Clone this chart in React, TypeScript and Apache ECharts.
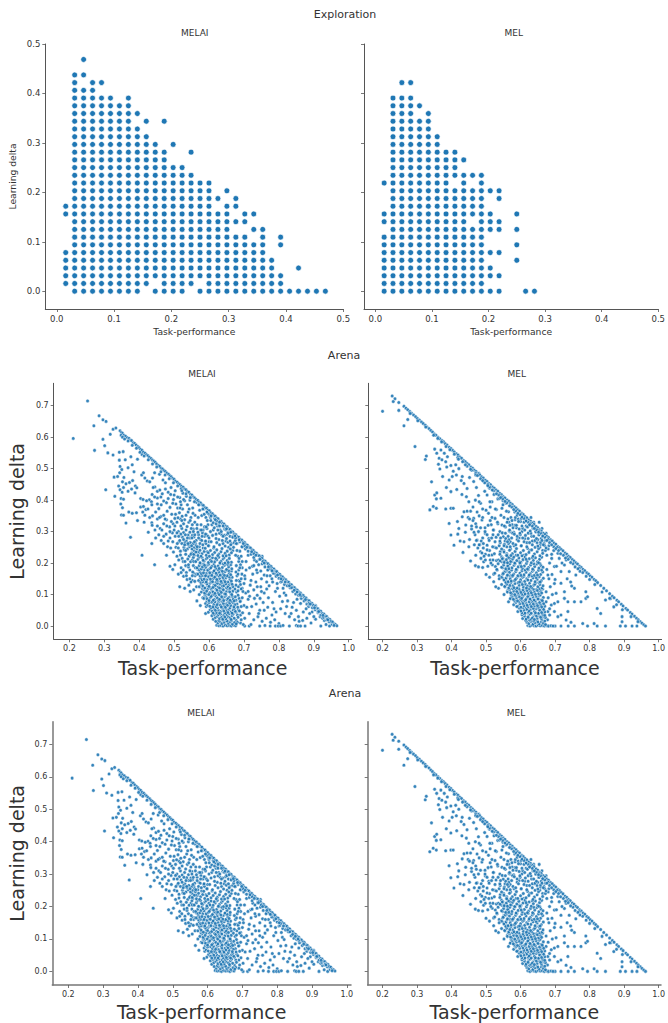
import React, { useEffect, useRef } from "react";
import * as echarts from "echarts";

const gridStep = 1 / 64;
const explorationTicksX = [0, 0.1, 0.2, 0.3, 0.4, 0.5];
const explorationTicksY = [0, 0.1, 0.2, 0.3, 0.4, 0.5];
const arenaTicksX = [0.2, 0.3, 0.4, 0.5, 0.6, 0.7, 0.8, 0.9, 1.0];
const arenaTicksY = [0, 0.1, 0.2, 0.3, 0.4, 0.5, 0.6, 0.7];

// Exploration: column numbers (in grid steps) for each row number, row 0 first
const exploreMelaiRows: number[][] = [
  [2,3,4,5,6,7,8,9,11,12,13,14,16,17,18,19,20,21,22,23,24,25,26,27,28,29,30],
  [1,2,3,4,5,6,7,8,9,10,12,13,14,15,17,18,19,20,21,22,23,24,25],
  [1,2,3,4,5,6,7,8,9,10,11,12,13,14,15,16,17,18,19,20,21,22,23,24,25],
  [1,2,3,4,5,6,7,8,9,10,11,12,13,14,15,16,17,18,19,20,21,22,23,24,27],
  [1,2,3,4,5,6,7,8,9,10,11,12,13,14,15,16,17,18,19,20,21,22,23,24],
  [1,2,3,4,5,6,7,8,9,10,11,12,13,14,15,16,17,18,19,20,21,22,23],
  [2,3,4,5,6,7,8,9,10,11,12,13,14,15,16,17,18,19,20,21,22,23,25],
  [2,3,4,5,6,7,8,9,10,11,12,13,14,15,16,17,18,19,20,21,23,25],
  [2,3,4,5,6,7,8,9,10,11,12,13,14,15,16,17,18,19,22,23],
  [2,3,4,5,6,7,8,9,10,11,12,13,14,15,16,17,18,19,20,21],
  [1,2,3,4,5,6,7,8,9,10,11,12,13,14,15,16,17,18,19,21,22],
  [1,2,3,4,5,6,7,8,9,10,11,12,13,14,15,16,17,19,20],
  [2,3,4,5,6,7,8,9,10,11,12,13,14,15,16,17,18,20],
  [2,3,4,5,6,7,8,9,10,11,12,13,14,15,16,17,19],
  [2,3,4,5,6,7,8,9,10,11,12,13,14,15,16,17],
  [2,3,4,5,6,7,8,9,10,11,12,13,14,15],
  [2,3,4,5,6,7,8,9,10,11,12,13,14],
  [2,3,4,5,6,7,8,9,10,11,12],
  [2,3,4,5,6,7,8,9,10,11,12,15],
  [2,3,4,5,6,7,8,9,10,11,13],
  [2,3,4,5,6,7,8,9,10],
  [2,3,4,5,6,7,8,9],
  [2,3,4,5,6,7,8,10,12],
  [2,3,4,5,6,7,8,9],
  [2,3,4,5,6,7,8],
  [2,3,4,5,6,8],
  [2,3,4],
  [2,4,5],
  [2,3],
  [],
  [3],
];
const exploreMelRows: number[][] = [
  [1,2,3,4,5,6,7,8,9,10,11,12,13,14,17,18],
  [1,2,3,4,5,6,7,8,9,10,11,12],
  [1,2,3,4,5,6,7,8,9,10,11,12,13,14],
  [1,2,3,4,5,6,7,8,9,10,11,12,13],
  [1,2,3,4,5,6,7,8,9,10,11,12,16],
  [1,2,3,4,5,6,7,8,9,10,11,12,13,14],
  [1,2,3,4,5,6,7,8,9,10,11,12,16],
  [1,2,3,4,5,6,7,8,9,10,11,12],
  [2,3,4,5,6,7,8,9,10,11,12,13,14,16],
  [1,2,3,4,5,6,7,8,9,10,12,13,14],
  [1,2,3,4,5,6,7,8,9,10,11,12,13,16],
  [2,3,4,5,6,7,8,9,10,11,12],
  [2,3,4,5,6,7,8,9,10,11,12,14],
  [2,3,4,5,6,7,8,9,10,11,12,13,14],
  [1,2,3,4,5,6,7,8,10,12],
  [2,3,4,5,6,7,8,9,10,11,12],
  [2,3,4,5,6,7,8,9],
  [2,3,4,5,6,7,8,9,10],
  [2,3,4,5,6,7,8,9],
  [2,3,4,5,6,7],
  [2,3,4,5,6,7],
  [2,3,4,5,6],
  [2,3,4,5,6],
  [2,3,4,6],
  [2,3,4,5],
  [2,3,4],
  [],
  [3,4],
];

// Arena: x,y pairs in thousandths
const melaiEdge = [
345,620,349,615,352,612,348,606,356,606,361,603,366,598,371,596,375,590,378,589,383,582,387,580,391,575,396,570,400,566,404,561,408,558,412,552,417,549,421,544,425,541,429,536,434,532,438,527,442,524,446,520,450,515,455,510,459,507,463,501,467,499,471,494,475,491,479,486,484,482,488,477,492,474,496,469,500,466,504,460,509,457,513,452,517,449,521,444,526,441,530,435,534,433,538,427,542,425,547,418,551,416,555,410,559,407,563,402,568,399,572,393,576,391,580,385,584,383,589,376,593,374,597,368,601,366,605,360,610,357,614,351,618,349,622,343,626,341,631,334,635,332,639,326,643,324,647,318,652,315,656,309,660,307,664,301,668,299,673,292,677,290,681,284,685,282,689,276,694,273,698,267,702,265,706,259,710,257,715,250,719,248,723,242,727,240,731,234,736,231,740,225,744,223,748,217,752,215,757,208,761,206,765,200,769,198,773,192,778,189,782,183,786,181,790,175,794,173,799,166,803,164,807,158,811,156,815,150,820,147,824,141,828,139,832,133,836,131,841,124,845,122,849,116,853,114,857,108,862,105,866,99,870,97,874,91,878,89,883,82,887,80,891,74,895,72,899,66,904,63,908,57,912,55,916,49,920,47,925,40,929,38,933,32,937,30,941,24,946,21,950,15,954,13,958,7,962,5,966,1,
520,436,548,408,572,385,597,358,622,334,648,306,676,280,702,255,728,230,754,205,782,175,810,148,836,122,862,96,886,72,912,46,938,22,
352,600,358,594,368,588,380,574,392,565,402,552,414,540,426,528,438,515,450,505,462,490,474,480,486,468,498,455,510,445,522,430,534,420,546,408,558,395,570,385,582,372,594,362,606,350,618,338,
630,330,640,318,650,309,662,298,674,286,686,274,698,262,708,250,722,236,734,225,746,212,758,200,770,188,780,176,796,162,806,150,818,140,830,128,844,114,852,108,860,100,876,84,890,70,902,58,914,46,926,34,940,20,958,2,
];
const melaiSparse = [
252,715,285,668,296,655,305,650,270,636,211,596,272,558,296,593,301,573,310,550,317,609,325,625,333,629,325,543,
343,552,354,554,343,527,360,528,376,538,380,512,395,530,408,545,345,507,350,497,368,503,385,490,344,487,356,472,328,473,338,475,352,458,341,445,345,433,355,440,362,452,372,456,381,462,389,445,393,439,351,425,304,433,330,412,348,405,355,403,368,428,378,435,388,423,407,480,412,487,416,470,423,461,430,458,438,470,444,487,458,482,468,464,475,455,445,442,452,428,440,440,437,418,429,401,404,405,411,402,421,398,435,395,452,407,462,410,470,397,483,425,491,440,500,416,347,388,352,376,349,353,355,352,370,362,380,358,392,360,404,378,412,380,419,370,425,372,410,362,416,352,430,345,438,350,447,362,456,373,463,385,478,392,488,377,498,402,505,388,510,375,516,408,525,422,530,398,520,385,362,327,375,282,395,335,408,225,444,195,414,330,436,328,452,340,462,348,470,352,480,365,493,355,502,342,515,360,524,372,538,385,545,400,540,362,553,375,560,352,548,345,
426,298,437,320,445,305,452,318,460,310,470,325,478,338,487,315,497,325,508,330,518,340,530,338,542,330,552,322,436,262,447,280,456,290,463,272,470,262,481,252,477,292,488,280,495,296,503,285,512,300,522,310,534,305,545,298,555,308,478,225,490,248,498,235,505,250,514,268,524,282,535,270,545,280,552,288,508,222,518,238,528,250,538,245,549,262,556,240,563,272,570,290,488,190,496,180,502,195,513,210,523,215,533,228,543,222,552,210,558,225,512,165,520,170,527,158,535,170,545,178,555,192,560,205,516,125,530,120,542,130,552,145,560,160,568,180,537,148,546,110,556,115,564,125,572,100,565,80,575,65,582,90,590,40,592,62,548,140,556,168,
685,205,695,185,702,160,712,225,722,240,730,210,742,195,752,222,760,200,770,180,725,165,738,170,750,150,765,140,775,160,790,165,805,140,812,120,685,145,695,120,705,105,718,130,728,115,738,98,748,125,758,105,770,90,782,75,790,110,802,95,815,105,825,80,838,60,850,50,862,72,875,90,885,62,895,45,905,65,690,80,700,65,712,85,722,62,735,70,745,50,755,75,768,60,780,35,792,45,805,55,818,40,830,30,845,20,856,30,870,45,880,25,892,10,905,22,918,30,930,18,690,35,702,25,715,40,728,20,740,30,752,15,764,25,776,12,788,20,800,8,690,10,702,0,715,0,720,5,745,0,760,2,775,0,790,0,798,0,805,0,812,2,830,0,850,2,855,0,862,0,875,0,920,0,945,0,955,5,950,12,935,5,925,25,
];
const melaiFill = [
502,318,508,296,511,344,516,272,519,318,523,349,527,297,531,265,534,352,537,316,540,289,543,372,546,335,549,310,551,245,554,358,557,283,559,330,561,262,564,393,566,322,568,298,569,345,571,234,573,368,575,275,577,322,579,351,581,296,583,248,585,372,587,315,589,268,591,345,593,290,595,236,597,322,599,255,
512,248,518,226,522,262,526,205,529,242,533,192,536,260,539,213,541,188,544,252,547,204,550,232,553,172,555,218,558,250,
604,345,608,322,612,305,616,342,620,292,624,318,628,275,632,305,636,290,640,262,644,288,648,270,652,292,656,250,660,285,664,262,668,240,672,265,586,355,594,362,602,352,
628,322,644,308,654,298,668,285,680,262,688,268,696,252,704,245,712,238,720,228,728,218,736,205,744,212,752,198,760,188,768,178,776,182,784,168,792,158,800,152,808,142,816,132,824,128,832,122,840,110,848,102,856,98,864,88,872,80,880,70,888,68,896,58,904,52,912,42,920,35,928,28,936,20,944,14,952,6,
678,18,681,35,684,52,680,70,686,88,679,108,684,125,688,142,680,160,685,178,690,195,682,222,688,238,694,252,692,62,695,90,697,110,700,135,703,150,706,178,692,20,696,42,698,5,708,60,712,110,716,95,720,145,724,190,730,88,734,140,738,125,742,40,746,88,750,110,758,50,765,118,772,128,780,150,786,55,795,135,810,78,822,62,835,40,842,75,852,85,858,15,868,18,878,55,888,40,900,30,
681,12,683,28,677,44,687,48,682,60,677,82,689,78,683,98,692,118,677,130,683,112,690,132,678,145,692,150,683,165,677,172,694,165,688,185,678,192,695,205,686,215,676,225,692,222,680,240,
520,185,526,178,531,205,535,160,541,195,545,150,548,228,552,160,556,205,559,142,561,185,564,165,519,292,527,275,533,240,538,280,541,258,546,265,551,280,555,262,559,290,563,255,567,235,572,252,575,305,579,272,583,305,587,285,591,262,594,310,597,285,600,268,
458,345,465,305,470,285,474,340,479,318,483,270,488,300,492,332,496,268,500,305,504,355,509,262,513,285,517,375,522,335,527,325,532,290,
436,385,444,410,452,388,459,432,466,420,475,435,483,405,490,418,496,390,503,430,510,410,518,395,527,402,535,412,
706,205,716,185,728,192,736,178,748,175,758,162,766,160,782,140,796,120,820,98,
];
const melaiDense = [
622,3,628,1,634,2,640,0,646,3,652,1,658,2,664,0,670,3,676,1,625,10,631,14,637,8,643,12,649,17,655,9,661,13,667,6,673,11,619,15,628,18,640,19,652,16,664,18,678,7,
612,22,618,27,624,31,630,24,636,28,642,35,648,23,654,30,660,26,666,33,672,25,608,33,615,37,621,39,627,36,633,38,639,22,645,29,651,37,657,39,663,21,669,38,
598,44,603,52,609,47,615,56,621,43,627,50,633,46,639,55,645,42,651,49,657,53,663,45,669,51,675,47,606,58,612,41,618,50,624,58,630,41,636,59,642,48,648,57,654,43,660,58,666,41,672,56,
590,72,596,66,602,63,608,76,614,69,620,62,626,73,632,67,638,78,644,64,650,71,656,77,662,65,668,74,674,68,594,79,600,75,611,61,617,77,623,68,629,79,635,61,641,72,647,60,653,66,659,73,665,79,671,61,
585,88,591,95,597,83,603,90,609,98,615,85,621,92,627,82,633,97,639,88,645,94,651,84,657,91,663,99,669,86,675,93,588,99,594,87,600,81,606,94,612,82,618,97,624,89,630,85,636,93,642,81,648,98,654,87,660,82,666,95,672,80,
578,108,584,115,590,102,596,118,602,106,608,113,614,101,620,117,626,105,632,112,638,119,644,103,650,110,656,116,662,104,668,111,674,118,581,119,587,105,593,111,599,100,605,119,611,108,617,104,623,114,629,100,635,107,641,115,647,102,653,119,659,109,665,100,
572,125,578,132,584,122,590,138,596,128,602,135,608,121,614,130,620,139,626,124,632,133,638,127,644,136,650,122,656,130,662,137,668,125,576,139,582,127,588,121,594,134,600,126,606,139,612,123,618,129,624,136,630,121,636,138,642,128,648,134,654,124,660,120,666,133,
570,145,576,152,582,141,588,158,594,147,600,154,606,142,612,150,618,157,624,144,630,151,636,159,642,146,648,153,654,140,660,148,666,155,574,159,580,147,586,149,592,140,598,158,604,149,610,141,616,155,622,148,628,159,634,142,640,154,646,141,652,158,658,156,664,143,
568,165,574,172,580,161,586,178,592,167,598,174,604,162,610,170,616,177,622,164,628,171,634,179,640,166,646,173,652,160,658,168,664,175,572,179,578,167,584,169,590,160,596,178,602,169,608,161,614,175,620,168,626,179,632,162,638,174,644,161,650,178,656,176,662,163,
566,185,572,192,578,181,584,198,590,187,596,194,602,182,608,190,614,197,620,184,626,191,632,199,638,186,644,193,650,180,656,188,662,195,575,199,581,188,587,193,599,197,605,185,617,189,629,183,641,198,653,196,665,182,
562,205,568,212,574,201,580,218,586,207,592,214,598,202,604,210,610,217,616,204,622,211,628,219,634,206,640,213,646,200,652,208,658,215,664,203,571,219,583,209,595,218,607,205,619,215,631,201,643,218,655,202,
556,228,562,235,568,224,574,241,580,230,586,237,592,225,598,233,604,240,610,227,616,234,622,242,628,229,634,236,640,223,646,231,652,238,658,226,664,233,565,246,577,222,589,247,601,222,613,248,625,224,637,246,649,223,661,245,
530,258,540,262,550,255,558,268,566,252,574,262,582,258,590,270,598,255,606,268,614,252,622,265,630,258,638,272,646,254,654,266,662,258,670,250,678,262,570,280,580,285,590,292,600,280,610,288,620,278,630,295,640,285,650,278,660,270,668,282,675,272,555,300,565,310,578,305,592,315,604,300,615,312,625,305,635,300,645,312,655,295,595,335,605,335,612,328,620,325,630,318,
];
const melEdge = [
262,698,268,692,273,687,279,681,284,676,290,670,296,665,301,659,307,654,313,648,318,643,324,638,329,632,335,627,340,621,345,616,350,610,355,606,361,600,366,595,372,589,377,585,382,579,387,575,393,568,398,564,403,558,408,553,414,547,419,543,424,537,429,533,435,526,440,522,445,516,450,512,456,505,461,501,466,495,471,491,477,484,482,480,487,474,492,470,498,463,503,459,508,453,513,449,519,442,524,438,529,432,534,428,540,421,545,417,550,411,555,407,561,400,566,396,571,390,576,386,582,379,587,375,592,369,597,365,603,358,608,354,613,348,618,344,624,337,629,333,634,327,639,323,645,316,650,312,655,306,660,302,666,295,671,291,676,285,681,281,687,274,692,270,697,264,702,260,708,253,713,249,718,243,723,239,729,232,734,228,739,222,744,218,750,211,755,207,760,201,765,197,771,190,776,186,781,180,786,176,792,169,797,165,802,159,807,155,813,148,818,144,823,138,832,129,841,120,849,112,858,103,866,95,871,90,879,82,884,77,892,69,897,64,905,56,910,51,918,43,923,38,930,31,936,25,941,20,947,14,952,9,957,4,962,0,
470,485,505,450,545,410,572,382,600,355,628,326,652,303,680,275,706,250,735,218,770,184,
280,675,302,652,325,632,348,606,360,596,371,585,384,570,395,560,408,546,418,535,432,522,445,508,458,495,470,480,484,468,496,455,510,442,522,430,536,416,548,404,560,392,574,378,586,366,598,354,610,342,622,330,634,318,646,306,658,295,670,282,684,265,696,252,710,240,724,225,738,212,752,198,766,182,780,170,800,148,815,132,836,108,858,88,878,68,895,52,920,30,940,14,
420,530,440,512,455,498,475,478,490,462,505,446,518,432,530,420,542,408,555,396,568,382,580,370,592,358,604,346,616,334,626,322,640,310,652,298,664,286,676,272,690,258,702,246,716,230,730,216,745,202,758,188,772,174,790,158,
];
const melSparse = [
228,731,236,722,231,713,247,710,247,685,200,682,262,636,273,656,294,570,324,529,327,540,342,458,351,416,357,423,356,404,369,406,337,369,347,380,356,374,383,372,398,374,405,374,
351,562,357,549,369,559,379,549,364,533,372,528,388,538,362,514,366,499,383,522,398,510,412,512,374,475,393,464,402,475,414,480,385,440,415,434,398,427,431,475,436,453,445,437,464,459,479,485,493,459,443,411,450,395,469,400,484,390,503,416,517,395,436,363,455,365,431,347,417,332,393,326,398,289,421,310,441,321,464,342,488,337,507,358,526,342,546,374,565,363,407,257,436,268,433,234,455,207,469,192,450,252,474,273,498,294,522,305,546,321,484,236,503,257,526,268,550,284,493,204,517,226,541,236,560,252,500,164,527,189,546,204,522,141,536,120,550,151,565,77,
386,505,405,492,421,500,428,462,452,472,472,440,478,415,496,428,510,438,523,418,534,404,549,398,558,390,430,418,462,378,474,362,490,372,512,378,530,370,448,345,470,325,480,350,497,312,515,322,534,325,552,345,566,330,418,292,440,298,458,308,478,300,490,280,508,278,520,290,540,300,556,315,425,270,452,275,466,258,482,258,492,248,510,240,525,250,538,255,555,270,570,300,470,225,485,215,498,228,512,210,530,208,545,220,560,230,570,268,478,188,490,186,505,190,518,195,532,178,548,185,560,205,510,155,522,165,538,160,552,172,565,188,528,125,545,132,558,140,570,160,552,100,562,112,572,90,
679,162,691,164,698,135,717,136,674,109,703,104,727,109,737,77,708,30,717,35,737,46,756,77,775,77,789,109,822,56,832,40,846,83,861,88,870,61,894,30,894,14,732,19,746,12,780,8,813,8,822,0,846,0,889,0,904,0,923,0,937,0,756,0,738,0,717,0,700,0,679,0,794,0,727,194,741,173,760,162,732,210,708,231,690,215,698,189,717,173,674,77,689,67,698,72,708,77,684,35,698,46,679,46,756,120,748,127,727,88,789,88,794,93,682,255,696,240,
];
const melFill = [
462,335,468,290,472,315,476,248,480,395,484,312,486,270,490,345,494,222,497,300,500,368,503,242,506,320,509,272,511,395,514,200,517,345,519,252,521,305,524,230,527,372,529,282,531,180,533,330,536,210,539,405,541,265,543,352,545,155,547,296,549,385,551,240,553,318,555,125,557,278,559,365,561,190,563,340,565,262,567,302,569,215,
572,345,576,322,580,298,584,338,588,312,592,355,596,280,600,332,604,300,608,345,612,278,616,318,620,340,624,298,628,322,632,285,636,310,640,270,644,300,648,265,652,290,656,250,660,278,664,240,668,262,672,272,676,225,680,245,
678,20,684,55,680,90,686,125,682,150,676,180,684,200,690,228,692,100,700,148,704,190,712,215,720,200,735,150,745,140,
535,290,540,270,545,245,549,215,553,260,556,295,559,225,561,330,564,195,566,275,569,320,571,245,574,205,577,295,581,255,584,320,587,225,590,275,593,340,596,205,599,290,602,255,606,310,610,225,614,335,618,265,622,295,626,240,630,345,634,270,638,330,642,250,646,315,650,275,654,330,658,260,662,310,666,285,670,255,674,295,
445,365,452,340,458,318,465,298,472,272,480,258,488,232,492,262,498,210,503,290,508,225,512,335,516,280,520,210,525,168,530,248,535,198,538,150,542,280,548,165,553,205,557,148,560,175,564,140,
];
const melDense = [
621,2,627,0,633,3,639,1,645,0,651,3,657,1,663,2,669,0,675,2,681,0,688,1,694,0,618,12,624,8,630,15,636,6,642,11,648,18,654,7,660,14,666,9,672,5,615,18,626,19,638,16,650,13,662,19,670,16,
606,24,612,31,618,26,624,35,630,22,636,29,642,37,648,25,654,33,660,23,666,30,672,27,604,36,610,39,616,22,622,28,628,38,634,25,640,21,646,32,652,39,658,28,664,37,670,34,
592,46,598,53,604,42,610,50,616,57,622,44,628,52,634,59,640,47,646,55,652,41,658,49,664,56,670,45,595,58,601,48,607,59,613,41,619,53,625,47,631,41,637,56,643,42,649,59,655,51,661,43,667,53,
580,68,586,75,592,63,598,71,604,78,610,65,616,73,622,61,628,69,634,77,640,64,646,72,652,60,658,68,664,76,670,63,583,79,589,62,595,78,601,60,607,72,613,79,619,66,625,77,631,62,637,70,643,79,649,65,655,75,661,61,667,71,
570,87,576,94,582,82,588,90,594,98,600,85,606,93,612,81,618,89,624,97,630,84,636,92,642,80,648,88,654,96,660,83,666,91,573,99,579,85,585,96,591,80,597,92,603,88,609,99,615,84,621,94,627,86,633,99,639,83,645,95,651,86,657,99,663,81,
562,108,568,115,574,103,580,111,586,118,592,105,598,113,604,101,610,109,616,117,622,104,628,112,634,100,640,108,646,116,652,103,658,111,664,118,565,119,571,106,577,119,583,100,589,110,595,119,601,107,607,115,613,102,619,113,625,119,631,106,637,117,643,101,649,113,655,119,661,105,
554,126,560,133,566,122,572,138,578,128,584,135,590,121,596,130,602,139,608,124,614,133,620,127,626,136,632,122,638,130,644,137,650,125,656,132,662,121,557,139,569,129,581,122,593,138,605,132,617,121,629,126,641,133,653,139,665,128,
552,146,558,153,564,141,570,150,576,158,582,144,588,152,594,159,600,147,606,155,612,142,618,150,624,158,630,145,636,153,642,141,648,149,654,157,660,144,666,152,561,159,573,143,585,148,597,140,609,158,621,146,633,159,645,154,657,140,
550,167,556,174,562,162,568,171,574,178,580,165,586,173,592,160,598,168,604,176,610,163,616,171,622,179,628,166,634,174,640,161,646,169,652,177,658,164,664,172,559,179,577,161,589,179,601,161,613,178,625,162,637,178,649,162,661,178,
545,187,551,194,557,182,563,191,569,198,575,185,581,193,587,180,593,188,599,196,605,183,611,191,617,199,623,186,629,194,635,181,641,189,647,197,653,184,659,192,665,187,566,182,584,199,602,189,620,181,638,198,656,199,
541,207,547,214,553,202,559,211,565,218,571,205,577,213,583,200,589,208,595,216,601,203,607,211,613,219,619,206,625,214,631,201,637,209,643,217,649,204,655,212,661,219,562,201,580,219,598,201,616,212,634,218,652,201,
540,228,552,235,560,224,568,241,576,230,584,237,592,225,600,233,608,240,616,227,624,234,632,242,640,229,648,236,656,223,664,231,672,240,572,224,588,246,604,223,620,247,636,222,652,246,
552,255,562,268,570,252,578,262,586,258,594,270,602,255,610,268,618,252,626,265,634,258,642,272,650,254,658,266,666,258,674,248,564,285,574,280,582,292,590,285,598,295,606,280,614,288,622,278,630,295,638,285,646,278,654,290,662,272,
568,305,578,312,588,320,596,308,604,318,612,305,620,315,628,302,636,312,644,300,575,335,585,345,594,332,602,342,610,330,618,335,626,322,583,362,590,352,
];

function pairs(flat: number[]): number[][] {
  const out: number[][] = [];
  for (let i = 0; i + 1 < flat.length; i += 2) out.push([flat[i] / 1000, flat[i + 1] / 1000]);
  return out;
}
function rowsToPoints(rows: number[][]): number[][] {
  const out: number[][] = [];
  rows.forEach((cols, k) => cols.forEach((j) => out.push([j * gridStep, k * gridStep])));
  return out;
}

const FONT = "DejaVu Sans";
const TEXT = "#333333";
const AXIS = "#555555";

type Panel = {
  left: number; top: number; width: number; height: number;
  xMin: number; xMax: number; yMin: number; yMax: number;
  xTicks: number[]; yTicks: number[]; yLabels: boolean;
  tickFont: number; nameFont: number; xGap: number; yGap: number;
  points: number[][]; size: number; axisW: number; axisC: string;
};

const melaiArena = [...pairs(melaiSparse), ...pairs(melaiFill), ...pairs(melaiDense), ...pairs(melaiEdge)];
const melArena = [...pairs(melSparse), ...pairs(melFill), ...pairs(melDense), ...pairs(melEdge)];

const panels: Panel[] = [
  { left: 45.3, top: 44, width: 298, height: 265, xMin: -0.02, xMax: 0.5, yMin: -0.036, yMax: 0.5, xTicks: explorationTicksX, yTicks: explorationTicksY, yLabels: true, tickFont: 8.5, nameFont: 9.2, xGap: 18, yGap: 28.5, points: rowsToPoints(exploreMelaiRows), size: 5.8, axisW: 1, axisC: AXIS },
  { left: 364, top: 44, width: 298.7, height: 265, xMin: -0.02, xMax: 0.5, yMin: -0.036, yMax: 0.5, xTicks: explorationTicksX, yTicks: explorationTicksY, yLabels: false, tickFont: 8.5, nameFont: 9.2, xGap: 18, yGap: 27, points: rowsToPoints(exploreMelRows), size: 5.8, axisW: 1, axisC: AXIS },
  { left: 53.7, top: 383.3, width: 298, height: 256, xMin: 0.155, xMax: 1.0085, yMin: -0.042, yMax: 0.771, xTicks: arenaTicksX, yTicks: arenaTicksY, yLabels: true, tickFont: 8, nameFont: 19, xGap: 19, yGap: 27, points: melaiArena, size: 3.5, axisW: 1, axisC: AXIS },
  { left: 368.3, top: 383.3, width: 296.7, height: 256, xMin: 0.1587, xMax: 1.0086, yMin: -0.042, yMax: 0.771, xTicks: arenaTicksX, yTicks: arenaTicksY, yLabels: false, tickFont: 8, nameFont: 19, xGap: 19, yGap: 22, points: melArena, size: 3.5, axisW: 1, axisC: AXIS },
  { left: 52.3, top: 721.7, width: 298.7, height: 263.3, xMin: 0.154, xMax: 1.012, yMin: -0.042, yMax: 0.77, xTicks: arenaTicksX, yTicks: arenaTicksY, yLabels: true, tickFont: 8, nameFont: 19, xGap: 17, yGap: 26, points: melaiArena, size: 3.5, axisW: 1.5, axisC: "#777777" },
  { left: 367.7, top: 721.7, width: 298, height: 263.3, xMin: 0.1572, xMax: 1.0068, yMin: -0.042, yMax: 0.77, xTicks: arenaTicksX, yTicks: arenaTicksY, yLabels: false, tickFont: 8, nameFont: 19, xGap: 17, yGap: 22, points: melArena, size: 3.5, axisW: 1.5, axisC: "#777777" },
];

const titles = [
  { text: "Exploration", x: 345, y: 14, size: 11 },
  { text: "MELAI", x: 194.7, y: 33, size: 9 },
  { text: "MEL", x: 513.7, y: 33, size: 9 },
  { text: "Arena", x: 344, y: 355, size: 11 },
  { text: "MELAI", x: 202, y: 374, size: 9 },
  { text: "MEL", x: 516.7, y: 374, size: 9 },
  { text: "Arena", x: 345, y: 693.7, size: 11 },
  { text: "MELAI", x: 201, y: 712.7, size: 9 },
  { text: "MEL", x: 516, y: 712.7, size: 9 },
];

export default function App() {
  const ref = useRef<HTMLDivElement>(null);
  useEffect(() => {
    const chart = echarts.init(ref.current!, undefined, { renderer: "svg" });
    chart.setOption({
      animation: false,
      backgroundColor: "#ffffff",
      grid: panels.map((p) => ({ left: p.left, top: p.top, width: p.width, height: p.height, containLabel: false })),
      xAxis: panels.map((p, i) => ({
        type: "value", gridIndex: i, min: p.xMin, max: p.xMax,
        name: "Task-performance", nameLocation: "middle", nameGap: p.xGap,
        nameTextStyle: { fontFamily: FONT, fontSize: p.nameFont, color: TEXT },
        splitLine: { show: false },
        axisLine: { show: true, onZero: false, lineStyle: { color: p.axisC, width: p.axisW } },
        axisTick: { show: true, length: 3, customValues: p.xTicks, lineStyle: { color: AXIS, width: 0.8 } },
        axisLabel: { show: true, customValues: p.xTicks, margin: 5, fontFamily: FONT, fontSize: p.tickFont, color: TEXT, formatter: (v: number) => v.toFixed(1), showMinLabel: true, showMaxLabel: true, hideOverlap: false },
      })),
      yAxis: panels.map((p, i) => ({
        type: "value", gridIndex: i, min: p.yMin, max: p.yMax,
        name: p.yLabels ? "Learning delta" : "", nameLocation: "middle", nameGap: p.yGap,
        nameTextStyle: { fontFamily: FONT, fontSize: p.nameFont, color: TEXT },
        splitLine: { show: false },
        axisLine: { show: true, onZero: false, lineStyle: { color: p.axisC, width: p.axisW } },
        axisTick: { show: true, length: 3, customValues: p.yTicks, lineStyle: { color: AXIS, width: 0.8 } },
        axisLabel: { show: p.yLabels, customValues: p.yTicks, margin: 5, fontFamily: FONT, fontSize: p.tickFont, color: TEXT, formatter: (v: number) => v.toFixed(1), showMinLabel: true, showMaxLabel: true, hideOverlap: false },
      })),
      series: panels.map((p, i) => ({
        type: "scatter", xAxisIndex: i, yAxisIndex: i, data: p.points, symbolSize: p.size,
        silent: true, clip: false,
        itemStyle: { color: "#1f77b4", borderColor: "#ffffff", borderWidth: p.size > 5 ? 0.7 : 0.55, opacity: p.size > 5 ? 1 : 0.9 },
      })),
      graphic: titles.map((t) => ({
        type: "text", x: t.x, y: t.y, silent: true,
        style: { text: t.text, fontFamily: FONT, fontSize: t.size, fill: TEXT, align: "center", verticalAlign: "middle" },
      })),
    });
    return () => chart.dispose();
  }, []);
  return <div ref={ref} style={{ position: "fixed", left: 0, top: 0, width: 668, height: 1023 }} />;
}
